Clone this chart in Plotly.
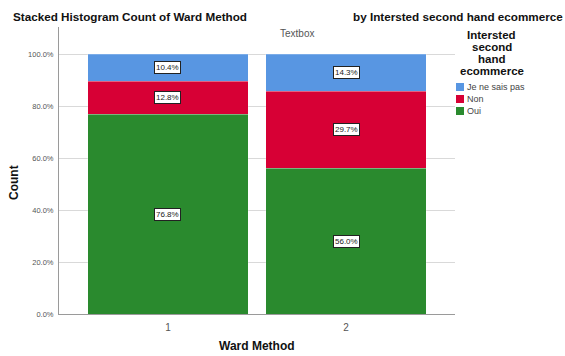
import plotly.graph_objects as go

# Cluster groups and response shares (percent of each cluster)
clusters = ["1", "2"]
oui = [76.8, 56.0]
non = [12.8, 29.7]
nsp = [10.4, 14.3]
y_ticks = [0, 20, 40, 60, 80, 100]
y_tick_labels = ["0.0%", "20.0%", "40.0%", "60.0%", "80.0%", "100.0%"]

series = [
    ("Oui", oui, "#2A8A2E"),
    ("Non", non, "#D70035"),
    ("Je ne sais pas", nsp, "#5896E2"),
]

FONT = "Liberation Sans, Arial, sans-serif"
W, H = 565, 356
ML, MR, MT, MB = 59, 110, 27, 42


def px(x, y):
    """Pixel position on the page -> paper coordinates."""
    return (x - ML) / (W - ML - MR), 1 - (y - MT) / (H - MT - MB)


fig = go.Figure()
for name, vals, color in series:
    fig.add_trace(go.Bar(
        x=list(range(len(clusters))), y=vals, name=name,
        marker=dict(color=color, line=dict(color="rgba(255,255,255,0.35)", width=0.6)),
        width=0.9, showlegend=False,
    ))

# Boxed percentage labels centred in each segment
annotations = []
base = [0.0] * len(clusters)
for name, vals, color in series:
    for i, v in enumerate(vals):
        annotations.append(dict(
            x=i, y=base[i] + v / 2, xref="x", yref="y",
            text=f"{v:.1f}%", showarrow=False,
            font=dict(family=FONT, size=8, color="#222"),
            bgcolor="white", bordercolor="#222", borderwidth=1, borderpad=1,
        ))
        base[i] += v


def text_at(x, y, text, size, color="#111", xanchor="center", angle=0):
    px_x, px_y = px(x, y)
    annotations.append(dict(
        x=px_x, y=px_y, xref="paper", yref="paper", text=text, showarrow=False,
        xanchor=xanchor, yanchor="middle", textangle=angle,
        font=dict(family=FONT, size=size, color=color),
    ))


# Titles and headings
text_at(11, 16, "<b>Stacked Histogram Count of Ward Method</b>", 11.7, xanchor="left")
text_at(565, 16, "<b>by Intersted second hand ecommerce</b>", 11.7, xanchor="right")
text_at(297, 33, "Textbox", 10, color="#555")
text_at(14, 183, "<b>Count</b>", 12, angle=-90)
text_at(257, 346, "<b>Ward Method</b>", 12)

# Legend heading, one line per row
for k, line in enumerate(["Intersted", "second", "hand", "ecommerce"]):
    text_at(491.5, 35 + 12 * k, f"<b>{line}</b>", 11.5)

# Legend entries (top to bottom: reverse of the stacking order)
shapes = []
for k, (name, vals, color) in enumerate(reversed(series)):
    cy = 87 + 12 * k
    x0, y0 = px(456, cy - 4)
    x1, y1 = px(464, cy + 4)
    shapes.append(dict(type="rect", xref="paper", yref="paper",
                       x0=x0, x1=x1, y0=y1, y1=y0,
                       fillcolor=color, line=dict(width=0)))
    text_at(465, cy, name, 9, color="#444", xanchor="left")

fig.update_layout(
    width=W, height=H,
    margin=dict(l=ML, r=MR, t=MT, b=MB, pad=0),
    barmode="stack",
    paper_bgcolor="white", plot_bgcolor="white",
    font=dict(family=FONT, color="#555"),
    showlegend=False,
    annotations=annotations,
    shapes=shapes,
    xaxis=dict(
        range=[-0.612, 1.612], tickvals=list(range(len(clusters))), ticktext=clusters,
        showgrid=False, showline=True, linecolor="#9a9a9a", linewidth=1, zeroline=False,
        ticks="", tickfont=dict(family=FONT, size=10, color="#555"),
        ticklabelstandoff=4, fixedrange=True,
    ),
    yaxis=dict(
        range=[0, 110.4], tickvals=y_ticks, ticktext=y_tick_labels,
        showgrid=True, gridcolor="#d9d9d9", gridwidth=1,
        showline=True, linecolor="#9a9a9a", linewidth=1,
        ticks="", tickfont=dict(family=FONT, size=7.5, color="#555"),
        ticklabelstandoff=3, zeroline=False, fixedrange=True,
    ),
)

fig.write_html("out.html")
